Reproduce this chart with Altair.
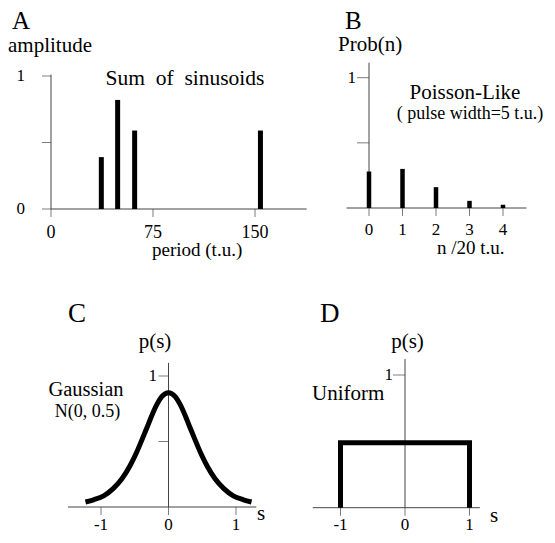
import altair as alt
import pandas as pd

W, H = 539, 526   # whole drawing area (page minus the 8px margin)
M = 8             # page margin
FONT = "Liberation Serif"
INK = "#000000"
AXC = "#444444"

# ---------------- data ----------------
# A: sum of sinusoids
a_period = [37, 49, 61.5, 154]
a_amp = [0.39, 0.82, 0.59, 0.59]
a_xticks = [0, 75, 150]
a_xlabels = ["0", "75", "150"]
a_yticks = [0, 0.5, 1]
a_ylabels = ["0", "", "1"]
a_xaxis = [0, 188]
a_yaxis = [0, 1.01]

# B: Poisson-like
b_n = [0, 1, 2, 3, 4]
b_prob = [0.28, 0.30, 0.16, 0.055, 0.025]
b_xticks = [0, 1, 2, 3, 4]
b_xlabels = ["0", "1", "2", "3", "4"]
b_yticks = [0.5, 1]
b_ylabels = ["", "1"]
b_xaxis = [-0.67, 4.7]
b_yaxis = [0, 1.115]

# C: Gaussian
c_s = [-1.23, -1.11, -0.96, -0.82, -0.69, -0.57, -0.47, -0.40, -0.32, -0.25, -0.17, -0.10, 0.0,
       0.10, 0.17, 0.25, 0.32, 0.40, 0.47, 0.57, 0.69, 0.82, 0.96, 1.11, 1.23]
c_p = [0.038, 0.055, 0.085, 0.14, 0.215, 0.315, 0.42, 0.505, 0.605, 0.695, 0.785, 0.842, 0.873,
       0.842, 0.785, 0.695, 0.605, 0.505, 0.42, 0.315, 0.215, 0.14, 0.085, 0.055, 0.038]
c_xticks = [-1, 0, 1]
c_xlabels = ["-1", "0", "1"]
c_yticks = [0.5, 1]
c_ylabels = ["", "1"]
c_xaxis = [-1.49, 1.30]
c_yaxis = [0, 1.10]

# D: Uniform
d_s = [-1, -1, 1, 1]
d_p = [0, 0.49, 0.49, 0]
d_xticks = [-1, 0, 1]
d_xlabels = ["-1", "0", "1"]
d_yticks = [0.5, 1]
d_ylabels = ["", "1"]
d_xaxis = [-1.43, 1.16]
d_yaxis = [0, 1.12]


# ---------------- layout helpers (pixel anchors -> scale domains) ----------------
def xdom(p0, v0, p1, v1):
    k = (p1 - p0) / (v1 - v0)
    return [v0 - (p0 - M) / k, v0 + (M + W - p0) / k]


def ydom(p0, v0, p1, v1):
    k = (p0 - p1) / (v1 - v0)
    return [v0 - (M + H - p0) / k, v0 + (p0 - M) / k]


def panel(xd, yd, xaxis, yaxis, xticks, xlabels, xdy, xfs, yticks, ylabels, ydx, ytl, data_layers):
    xs = alt.Scale(domain=xd, nice=False, zero=False)
    ys = alt.Scale(domain=yd, nice=False, zero=False)

    def X(f):
        return alt.X(f, type="quantitative", scale=xs, axis=None)

    def Y(f):
        return alt.Y(f, type="quantitative", scale=ys, axis=None)

    axes = pd.DataFrame({"x": [xaxis[0], 0], "x2": [xaxis[1], 0],
                         "y": [0, yaxis[0]], "y2": [0, yaxis[1]]})
    lines = alt.Chart(axes).mark_rule(color=AXC, strokeWidth=1).encode(
        x=X("x"), x2="x2", y=Y("y"), y2="y2")

    xt = pd.DataFrame({"x": xticks, "y": [0] * len(xticks), "t": xlabels})
    xtick = alt.Chart(xt).mark_tick(orient="vertical", size=8, thickness=1,
                                    yOffset=4, color=AXC).encode(x=X("x"), y=Y("y"))
    xlab = alt.Chart(xt).mark_text(dy=xdy, baseline="middle", align="center", font=FONT,
                                   fontSize=xfs, color=INK).encode(x=X("x"), y=Y("y"), text="t:N")

    yt = pd.DataFrame({"x": [0] * len(yticks), "y": yticks, "t": ylabels})
    ytick = alt.Chart(yt).mark_tick(orient="horizontal", size=ytl, thickness=1,
                                    xOffset=-ytl / 2, color=AXC).encode(x=X("x"), y=Y("y"))
    ylab = alt.Chart(yt).mark_text(dx=ydx, baseline="middle", align="right", font=FONT,
                                   fontSize=17, color=INK).encode(x=X("x"), y=Y("y"), text="t:N")

    return alt.layer(lines, xtick, ytick, xlab, ylab, *data_layers(X, Y))


def txt(label, px, py, size=21, align="left"):
    return alt.Chart(pd.DataFrame({"t": [label]})).mark_text(
        font=FONT, fontSize=size, align=align, baseline="alphabetic", color=INK
    ).encode(x=alt.value(px - M), y=alt.value(py - M), text="t:N")


# ---------------- panels ----------------
def a_layers(X, Y):
    df = pd.DataFrame({"x": a_period, "y0": [0] * len(a_period), "y": a_amp})
    return [alt.Chart(df).mark_rule(strokeWidth=5, color=INK).encode(x=X("x"), y=Y("y0"), y2="y")]


def b_layers(X, Y):
    df = pd.DataFrame({"x": b_n, "y0": [0] * len(b_n), "y": b_prob})
    return [alt.Chart(df).mark_rule(strokeWidth=4.5, color=INK).encode(x=X("x"), y=Y("y0"), y2="y")]


def c_layers(X, Y):
    df = pd.DataFrame({"s": c_s, "p": c_p})
    return [alt.Chart(df).mark_line(strokeWidth=5, color=INK, interpolate="monotone").encode(
        x=X("s"), y=Y("p"))]


def d_layers(X, Y):
    df = pd.DataFrame({"s": d_s, "p": d_p, "i": list(range(len(d_s)))})
    return [alt.Chart(df).mark_line(strokeWidth=5, color=INK, strokeJoin="miter").encode(
        x=X("s"), y=Y("p"), order="i:Q")]


pA = panel(xdom(51, 0, 153, 75), ydom(209, 0, 76, 1), a_xaxis, a_yaxis,
           a_xticks, a_xlabels, 24, 18, a_yticks, a_ylabels, -26, 9, a_layers)
pB = panel(xdom(369, 0, 503, 4), ydom(208, 0, 77.7, 1), b_xaxis, b_yaxis,
           b_xticks, b_xlabels, 21.5, 17, b_yticks, b_ylabels, -13, 12, b_layers)
pC = panel(xdom(168.5, 0, 236, 1), ydom(507, 0, 376, 1), c_xaxis, c_yaxis,
           c_xticks, c_xlabels, 18, 17, c_yticks, c_ylabels, -11.5, 10, c_layers)
pD = panel(xdom(405, 0, 469.5, 1), ydom(507.7, 0, 375, 1), d_xaxis, d_yaxis,
           d_xticks, d_xlabels, 17.5, 17, d_yticks, d_ylabels, -12, 12, d_layers)

texts = [
    txt("A", 12, 29, 25),
    txt("amplitude", 8, 52),
    txt("Sum\u00a0 of\u00a0 sinusoids", 185, 85, 21.5, "center"),
    txt("period (t.u.)", 152, 256, 19),
    txt("B", 345, 29, 25),
    txt("Prob(n)", 338, 51),
    txt("Poisson-Like", 465, 99, 21, "center"),
    txt("( pulse width=5 t.u.)", 470, 119, 18, "center"),
    txt("n /20 t.u.", 437, 254, 19),
    txt("C", 68, 322, 27),
    txt("p(s)", 155, 348, 21, "center"),
    txt("Gaussian", 86, 396, 20.5, "center"),
    txt("N(0, 0.5)", 87.5, 417, 18, "center"),
    txt("s", 257, 520),
    txt("D", 320, 322, 27),
    txt("p(s)", 407.5, 348, 21, "center"),
    txt("Uniform", 312, 400),
    txt("s", 490, 522),
]

chart = alt.layer(pA, pB, pC, pD, *texts).resolve_scale(
    x="independent", y="independent"
).properties(
    width=W, height=H, padding=0, autosize=alt.AutoSizeParams(type="none")
).configure_view(stroke=None)

chart.save("out.html", embed_options={"renderer": "svg", "actions": False})
